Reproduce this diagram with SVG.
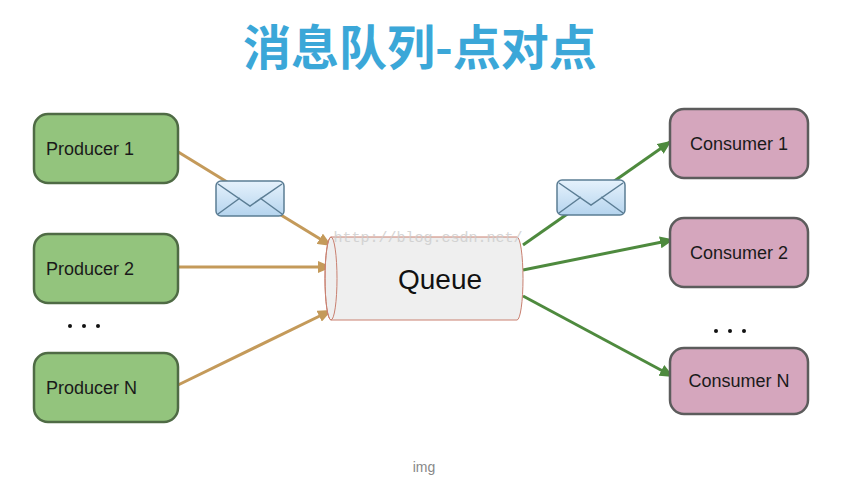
<svg xmlns="http://www.w3.org/2000/svg" width="845" height="487" viewBox="0 0 845 487">
<style>
.p{fill:#93c47d;stroke:#4f6b45;stroke-width:2.5}
.c{fill:#d5a6bd;stroke:#5c5c5c;stroke-width:2.5}
.t{font-family:"Liberation Sans",Arial,sans-serif;font-size:18px;fill:#1a1a1a}
.ar{stroke:#c49a5a;stroke-width:3;fill:none}
.ag{stroke:#4e8a3e;stroke-width:3;fill:none}
.dot{fill:#111}
</style>
<defs>
<marker id="mo" markerWidth="14" markerHeight="12" refX="12" refY="6" orient="auto" markerUnits="userSpaceOnUse" viewBox="0 0 14 12"><path d="M0,0 L14,6 L0,12z" fill="#c49a5a"/></marker>
<marker id="mg" markerWidth="14" markerHeight="12" refX="12" refY="6" orient="auto" markerUnits="userSpaceOnUse" viewBox="0 0 14 12"><path d="M0,0 L14,6 L0,12z" fill="#4e8a3e"/></marker>
<linearGradient id="eg" x1="0" y1="0" x2="0" y2="1"><stop offset="0" stop-color="#e6f2fc"/><stop offset="1" stop-color="#b5d4ee"/></linearGradient>
</defs>
<rect width="845" height="487" fill="#fff"/>
<text x="420" y="65" text-anchor="middle" font-family="'Noto Sans CJK SC',sans-serif" font-weight="bold" font-size="48" fill="#3ba7d8">消息队列-点对点</text>
<g id="connectors">
<path class="ar" d="M175,150 L330,245" marker-end="url(#mo)"/>
<path class="ar" d="M178,267 L330,267" marker-end="url(#mo)"/>
<path class="ar" d="M178,385 L330,311" marker-end="url(#mo)"/>
<path class="ag" d="M523,245 L670,142" marker-end="url(#mg)"/>
<path class="ag" d="M523,270 L672,240" marker-end="url(#mg)"/>
<path class="ag" d="M523,296 L672,376" marker-end="url(#mg)"/>
</g>
<g id="queue">
<path d="M331,237 L517,237 A6,41.5 0 0 1 517,320 L331,320 A6,41.5 0 0 1 331,237z" fill="#efefef" stroke="#c98070" stroke-width="1"/>
<ellipse cx="331" cy="278.5" rx="6" ry="41.5" fill="none" stroke="#c98070" stroke-width="1"/>
<text x="440" y="289" text-anchor="middle" font-family="'Liberation Sans',Arial,sans-serif" font-size="28" fill="#111">Queue</text>
</g>
<text x="428" y="242" text-anchor="middle" font-family="'Liberation Mono',monospace" font-size="15" fill="#ccc" opacity="0.8">http://blog.csdn.net/</text>
<g id="env1"><rect x="216" y="181" width="68" height="35" rx="5" fill="url(#eg)" stroke="#5b7d94" stroke-width="1.5"/><path d="M218,184 L250,206 L282,184 M218,214 L240,198 M282,214 L260,198" fill="none" stroke="#5b7d94" stroke-width="1.5"/></g>
<g id="env2"><rect x="557" y="180" width="68" height="35" rx="5" fill="url(#eg)" stroke="#5b7d94" stroke-width="1.5"/><path d="M559,183 L591,205 L623,183 M559,213 L581,197 M623,213 L601,197" fill="none" stroke="#5b7d94" stroke-width="1.5"/></g>
<g id="producer1"><rect class="p" x="34" y="114" width="144" height="69" rx="14"/><text class="t" x="46" y="155">Producer 1</text></g>
<g id="producer2"><rect class="p" x="34" y="234" width="144" height="69" rx="14"/><text class="t" x="46" y="275">Producer 2</text></g>
<g id="producerN"><rect class="p" x="34" y="353" width="144" height="69" rx="14"/><text class="t" x="46" y="394">Producer N</text></g>
<g id="consumer1"><rect class="c" x="670" y="109" width="138" height="69" rx="14"/><text class="t" x="739" y="150" text-anchor="middle">Consumer 1</text></g>
<g id="consumer2"><rect class="c" x="670" y="218" width="138" height="69" rx="14"/><text class="t" x="739" y="259" text-anchor="middle">Consumer 2</text></g>
<g id="consumerN"><rect class="c" x="670" y="348" width="138" height="66" rx="14"/><text class="t" x="739" y="387" text-anchor="middle">Consumer N</text></g>
<g id="dots1"><circle class="dot" cx="70" cy="326" r="2"/><circle class="dot" cx="84" cy="326" r="2"/><circle class="dot" cx="98" cy="326" r="2"/></g>
<g id="dots2"><circle class="dot" cx="716" cy="331" r="2"/><circle class="dot" cx="730" cy="331" r="2"/><circle class="dot" cx="744" cy="331" r="2"/></g>
<text x="424" y="472" text-anchor="middle" font-family="'Liberation Sans',Arial,sans-serif" font-size="14" fill="#888">img</text>
</svg>
